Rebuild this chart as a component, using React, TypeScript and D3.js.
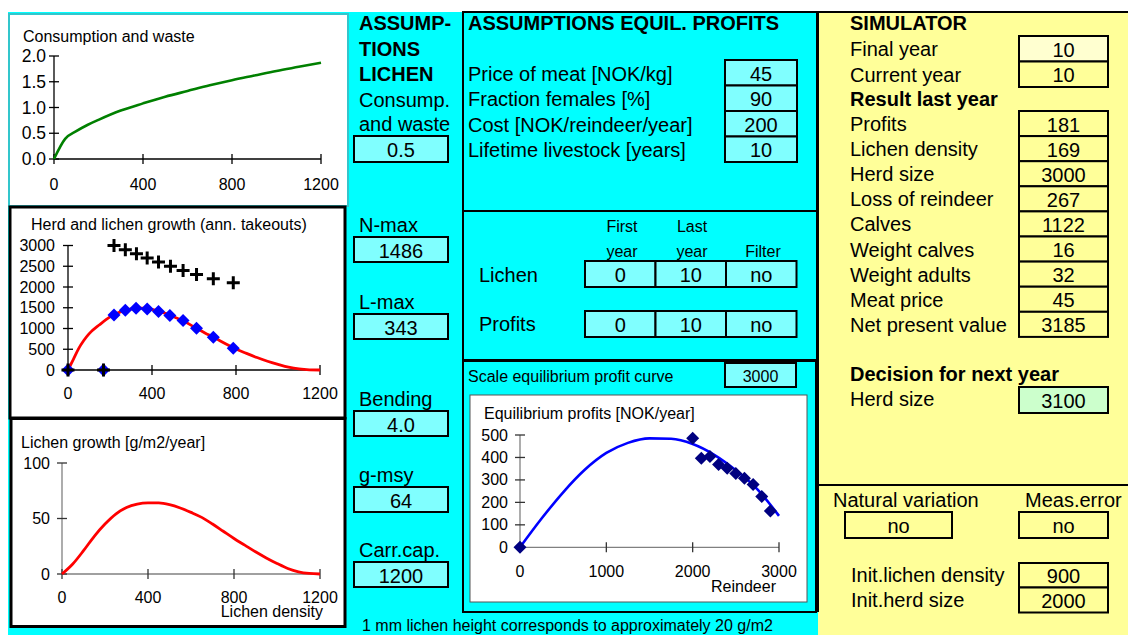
import React from "react";
import * as d3 from "d3";

// ---------------- data ----------------
const consumptionDensity = [0, 50, 100, 150, 200, 300, 400, 500, 600, 700, 800, 900, 1000, 1100, 1200];
const consumptionRate = [0, 0.39, 0.54, 0.66, 0.76, 0.94, 1.08, 1.21, 1.32, 1.43, 1.53, 1.62, 1.71, 1.79, 1.87];
const consumptionYTicks = [0, 0.5, 1.0, 1.5, 2.0];
const densityTicks = [0, 400, 800, 1200];

const herdCurveDensity = [0, 25, 50, 75, 100, 150, 200, 250, 300, 350, 400, 450, 500, 550, 600, 650, 700, 750, 800, 850, 900, 950, 1000, 1050, 1100, 1150, 1200];
const herdCurveValues = [0, 250, 510, 710, 870, 1090, 1280, 1400, 1470, 1490, 1460, 1390, 1290, 1180, 1040, 900, 770, 630, 505, 400, 300, 210, 135, 68, 25, 5, 0];
const takeoutDensity = [0, 169, 219, 273, 324, 377, 431, 485, 548, 612, 692, 787];
const takeoutValues = [0, 0, 1327, 1440, 1488, 1472, 1408, 1311, 1190, 1005, 788, 523];
const herdDensity = [0, 169, 219, 273, 326, 377, 431, 488, 548, 612, 692, 787];
const herdSizes = [0, 0, 3000, 2900, 2800, 2700, 2600, 2500, 2400, 2300, 2200, 2100];
const herdYTicks = [0, 500, 1000, 1500, 2000, 2500, 3000];

const growthDensity = [0, 50, 100, 150, 200, 250, 300, 350, 400, 450, 500, 550, 600, 650, 700, 750, 800, 850, 900, 950, 1000, 1050, 1100, 1150, 1200];
const growthValues = [0, 9, 21, 34, 45, 54, 60, 63, 64, 64, 62.5, 59.5, 55.5, 51, 45, 38.5, 32, 26, 20, 14.5, 9.5, 5, 2, 0.5, 0];
const growthYTicks = [0, 50, 100];

const profitCurveHerd = [0, 250, 500, 750, 1000, 1250, 1500, 1750, 2000, 2250, 2500, 2750, 3000];
const profitCurveValues = [0, 128, 245, 345, 420, 465, 485, 483, 460, 412, 343, 258, 140];
const profitHerd = [0, 2000, 2100, 2200, 2300, 2400, 2500, 2600, 2700, 2800, 2900];
const profitValues = [0, 485, 396, 404, 369, 352, 329, 307, 280, 226, 162];
const profitYTicks = [0, 100, 200, 300, 400, 500];
const profitXTicks = [0, 1000, 2000, 3000];

// ---------------- texts ----------------
const lichenHeading = ["ASSUMP-", "TIONS", "LICHEN"];
const lichenParamLabels = ["N-max", "L-max", "Bending", "g-msy", "Carr.cap."];
const lichenParamValues = ["1486", "343", "4.0", "64", "1200"];
const profitAssumptionLabels = ["Price of meat [NOK/kg]", "Fraction females [%]", "Cost [NOK/reindeer/year]", "Lifetime livestock [years]"];
const profitAssumptionValues = ["45", "90", "200", "10"];
const filterRowLabels = ["Lichen", "Profits"];
const filterRowValues = [["0", "10", "no"], ["0", "10", "no"]];
const simulatorLabels = ["Final year", "Current year"];
const simulatorValues = ["10", "10"];
const resultLabels = ["Profits", "Lichen density", "Herd size", "Loss of reindeer", "Calves", "Weight calves", "Weight adults", "Meat price", "Net present value"];
const resultValues = ["181", "169", "3000", "267", "1122", "16", "32", "45", "3185"];

const FONT = "'Liberation Sans', Arial, Helvetica, sans-serif";
const CYAN = "#00ffff";
const LIGHT_CYAN = "#80ffff";
const YELLOW = "#ffff99";

const diamond = (r: number) => `M0,${-r}L${r},0L0,${r}L${-r},0Z`;
const plus = (r: number) => `M${-r},0H${r}M0,${-r}V${r}`;

function Box({ x, y, w, h, text, fill, size = 20 }: any) {
  return (
    <g>
      <rect x={x} y={y} width={w} height={h} fill={fill} stroke="#000" strokeWidth={2} />
      <text x={x + w / 2} y={y + h / 2 + 1} textAnchor="middle" dominantBaseline="central" fontSize={size}>
        {text}
      </text>
    </g>
  );
}

function Label({ x, y, children, size = 20, bold = false, anchor = "start", fill = "#000" }: any) {
  return (
    <text x={x} y={y} fontSize={size} fontWeight={bold ? "bold" : "normal"} textAnchor={anchor} dominantBaseline="central" fill={fill}>
      {children}
    </text>
  );
}

function Axes({ x, y, xTicks, yTicks, yFmt, axisColor, tickColor, yLabelX, xLabelY, ySize = 16 }: any) {
  const [x0, x1] = x.range();
  const [y0, y1] = y.range();
  return (
    <g>
      <line x1={x0} x2={x1} y1={y0} y2={y0} stroke={axisColor} strokeWidth={1.3} />
      <line x1={x0} x2={x0} y1={y0} y2={y1} stroke={axisColor} strokeWidth={1.3} />
      {yTicks.map((t: number) => (
        <g key={"y" + t}>
          <line x1={x0 - 5} x2={x0 + 5} y1={y(t)} y2={y(t)} stroke={tickColor} strokeWidth={1.3} />
          <Label x={yLabelX} y={y(t)} size={ySize} anchor="end">{yFmt(t)}</Label>
        </g>
      ))}
      {xTicks.map((t: number) => (
        <g key={"x" + t}>
          <line x1={x(t)} x2={x(t)} y1={y0 - 5} y2={y0 + 5} stroke={tickColor} strokeWidth={1.3} />
          <Label x={x(t)} y={xLabelY} size={16} anchor="middle">{t}</Label>
        </g>
      ))}
    </g>
  );
}

function ConsumptionChart() {
  const x = d3.scaleLinear().domain([0, 1200]).range([54, 321]);
  const y = d3.scaleLinear().domain([0, 2]).range([159, 56]);
  const line = d3.line<number>().x((_, i) => x(consumptionDensity[i])).y((d) => y(d)).curve(d3.curveMonotoneX);
  return (
    <g>
      <Label x={23} y={36} size={16}>Consumption and waste</Label>
      <Axes x={x} y={y} xTicks={densityTicks} yTicks={consumptionYTicks} yFmt={d3.format(".1f")} axisColor="#000" tickColor="#000" yLabelX={46} xLabelY={184} ySize={17.5} />
      <path d={line(consumptionRate) || ""} fill="none" stroke="#008000" strokeWidth={2.6} />
    </g>
  );
}

function HerdChart() {
  const x = d3.scaleLinear().domain([0, 1200]).range([68, 320]);
  const y = d3.scaleLinear().domain([0, 3000]).range([370, 245.5]);
  const line = d3.line<number>().x((_, i) => x(herdCurveDensity[i])).y((d) => y(d)).curve(d3.curveMonotoneX);
  return (
    <g>
      <Label x={31} y={224} size={16}>Herd and lichen growth (ann. takeouts)</Label>
      <Axes x={x} y={y} xTicks={densityTicks} yTicks={herdYTicks} yFmt={(t: number) => String(t)} axisColor="#000" tickColor="#000" yLabelX={55} xLabelY={393} />
      <path d={line(herdCurveValues) || ""} fill="none" stroke="#ff0000" strokeWidth={2.8} />
      {takeoutValues.map((v, i) => (
        <path key={"d" + i} transform={`translate(${x(takeoutDensity[i])},${y(v)})`} d={diamond(6.5)} fill="#0000ff" />
      ))}
      {herdSizes.map((v, i) => (
        <path key={"p" + i} transform={`translate(${x(herdDensity[i])},${y(v)})`} d={plus(6.5)} stroke="#000" strokeWidth={3} fill="none" />
      ))}
    </g>
  );
}

function GrowthChart() {
  const x = d3.scaleLinear().domain([0, 1200]).range([62, 320]);
  const y = d3.scaleLinear().domain([0, 100]).range([574, 463]);
  const line = d3.line<number>().x((_, i) => x(growthDensity[i])).y((d) => y(d)).curve(d3.curveMonotoneX);
  return (
    <g>
      <Label x={21} y={442} size={16}>Lichen growth [g/m2/year]</Label>
      <Axes x={x} y={y} xTicks={densityTicks} yTicks={growthYTicks} yFmt={(t: number) => String(t)} axisColor="#808080" tickColor="#333" yLabelX={50} xLabelY={597} />
      <Label x={323} y={611} size={16} anchor="end">Lichen density</Label>
      <path d={line(growthValues) || ""} fill="none" stroke="#ff0000" strokeWidth={2.8} />
    </g>
  );
}

function ProfitChart() {
  const x = d3.scaleLinear().domain([0, 3000]).range([520, 779]);
  const y = d3.scaleLinear().domain([0, 500]).range([547.3, 435]);
  const line = d3.line<number>().x((_, i) => x(profitCurveHerd[i])).y((d) => y(d)).curve(d3.curveMonotoneX);
  return (
    <g>
      <rect x={470} y={395} width={337} height={207} fill="#fff" stroke="#555" strokeWidth={1} />
      <Label x={484} y={413} size={16}>Equilibrium profits [NOK/year]</Label>
      <Axes x={x} y={y} xTicks={profitXTicks} yTicks={profitYTicks} yFmt={(t: number) => String(t)} axisColor="#808080" tickColor="#333" yLabelX={508} xLabelY={571} />
      <Label x={776} y={586} size={16} anchor="end">Reindeer</Label>
      <path d={line(profitCurveValues) || ""} fill="none" stroke="#0000ff" strokeWidth={2.6} />
      {profitValues.map((v, i) => (
        <path key={i} transform={`translate(${x(profitHerd[i])},${y(v)})`} d={diamond(6.5)} fill="#000080" />
      ))}
    </g>
  );
}

export default function App() {
  const lichenParamY = [225, 302, 399, 475, 550];
  return (
    <svg width={1128} height={635} style={{ position: "absolute", left: 0, top: 0, display: "block" }} fontFamily={FONT}>
      <rect x={0} y={0} width={1128} height={635} fill="#fff" />
      <rect x={8} y={12} width={810} height={623} fill={CYAN} />
      <rect x={818} y={12} width={310} height={623} fill={YELLOW} />

      {/* left charts */}
      <rect x={9} y={14} width={339} height={192} fill="#fff" stroke="#33c6cc" strokeWidth={2} />
      <ConsumptionChart />
      <rect x={10} y={207} width={335} height={211} fill="#fff" stroke="#000" strokeWidth={3} />
      <HerdChart />
      <rect x={11} y={418.5} width={334} height={208} fill="#fff" stroke="#000" strokeWidth={3} />
      <GrowthChart />

      {/* assumptions lichen column */}
      {lichenHeading.map((t, i) => (
        <Label key={t} x={359} y={23 + i * 25.5} bold>{t}</Label>
      ))}
      <Label x={359} y={100}>Consump.</Label>
      <Label x={359} y={124}>and waste</Label>
      <Box x={354} y={136} w={94} h={26} text="0.5" fill={LIGHT_CYAN} />
      {lichenParamLabels.map((t, i) => (
        <g key={t}>
          <Label x={359} y={lichenParamY[i]}>{t}</Label>
          <Box x={354} y={lichenParamY[i] + 12} w={94} h={25} text={lichenParamValues[i]} fill={LIGHT_CYAN} />
        </g>
      ))}

      {/* middle column */}
      <rect x={463} y={12} width={354} height={199} fill={CYAN} stroke="#000" strokeWidth={2} />
      <Label x={468} y={23} bold>ASSUMPTIONS EQUIL. PROFITS</Label>
      {profitAssumptionLabels.map((t, i) => (
        <g key={t}>
          <Label x={468} y={73.5 + i * 25.5}>{t}</Label>
          <Box x={725} y={60 + i * 25.5} w={72} h={25.5} text={profitAssumptionValues[i]} fill={LIGHT_CYAN} />
        </g>
      ))}

      <rect x={463} y={211} width={354} height={149} fill={CYAN} stroke="#000" strokeWidth={2} />
      <Label x={622} y={226} size={16} anchor="middle">First</Label>
      <Label x={692} y={226} size={16} anchor="middle">Last</Label>
      <Label x={622} y={251} size={16} anchor="middle">year</Label>
      <Label x={692} y={251} size={16} anchor="middle">year</Label>
      <Label x={763} y={251} size={16} anchor="middle">Filter</Label>
      {filterRowLabels.map((t, r) => (
        <g key={t}>
          <Label x={479} y={275 + r * 49}>{t}</Label>
          {filterRowValues[r].map((v, c) => (
            <Box key={c} x={585 + c * 70.5} y={261 + r * 50} w={70.5} h={26} text={v} fill={LIGHT_CYAN} />
          ))}
        </g>
      ))}

      <rect x={463} y={361} width={353} height={251} fill={CYAN} stroke="#000" strokeWidth={2} />
      <Label x={468} y={376} size={16}>Scale equilibrium profit curve</Label>
      <Box x={725} y={363} w={71} h={24} text="3000" fill={LIGHT_CYAN} size={16} />
      <ProfitChart />
      <Label x={362} y={625} size={16}>1 mm lichen height corresponds to approximately 20 g/m2</Label>

      {/* simulator */}
      <line x1={817} x2={1128} y1={12} y2={12} stroke="#000" strokeWidth={2} />
      <line x1={818} x2={818} y1={11} y2={612} stroke="#000" strokeWidth={2} />
      <Label x={850} y={23} bold>SIMULATOR</Label>
      {simulatorLabels.map((t, i) => (
        <g key={t}>
          <Label x={850} y={49 + i * 25.5}>{t}</Label>
          <Box x={1019} y={36 + i * 25.5} w={89} h={25.5} text={simulatorValues[i]} fill={i === 0 ? "#ffffd0" : YELLOW} />
        </g>
      ))}
      <Label x={850} y={99} bold>Result last year</Label>
      {resultLabels.map((t, i) => (
        <g key={t}>
          <Label x={850} y={124 + i * 25.1}>{t}</Label>
          <Box x={1019} y={111 + i * 25.1} w={89} h={25.1} text={resultValues[i]} fill={YELLOW} />
        </g>
      ))}
      <Label x={850} y={374} bold>Decision for next year</Label>
      <Label x={850} y={399}>Herd size</Label>
      <Box x={1019} y={387} w={89} h={26} text="3100" fill="#ccffcc" />

      <line x1={818} x2={1128} y1={485} y2={485} stroke="#000" strokeWidth={2} />
      <Label x={833} y={500}>Natural variation</Label>
      <Label x={1025} y={500}>Meas.error</Label>
      <Box x={845} y={512} w={107} h={26} text="no" fill={YELLOW} />
      <Box x={1019} y={512} w={89} h={26} text="no" fill={YELLOW} />
      <Label x={851} y={575}>Init.lichen density</Label>
      <Label x={851} y={600}>Init.herd size</Label>
      <Box x={1019} y={563} w={89} h={24.5} text="900" fill={YELLOW} />
      <Box x={1019} y={587.5} w={89} h={25} text="2000" fill={YELLOW} />
    </svg>
  );
}
